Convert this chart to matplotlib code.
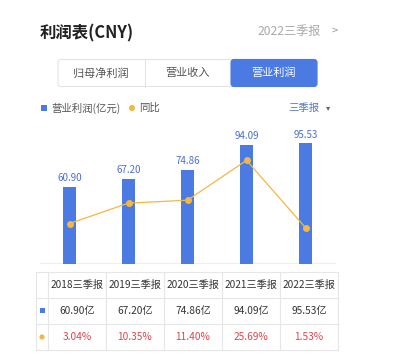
import matplotlib
matplotlib.use('Agg')
from matplotlib import pyplot as plt
from matplotlib.patches import FancyBboxPatch, Rectangle, Circle
import numpy as np

plt.rcParams['font.family'] = ['Noto Sans CJK SC', 'DejaVu Sans']

periods = ['2018三季报', '2019三季报', '2020三季报', '2021三季报', '2022三季报']
profit = [60.90, 67.20, 74.86, 94.09, 95.53]
yoy = [3.04, 10.35, 11.40, 25.69, 1.53]
tabs = ['归母净利润', '营业收入', '营业利润']

BLUE = '#4a7ae2'
LABEL_BLUE = '#4a6fcf'
ORANGE = '#f2b843'
RED = '#d9464a'
GRID = '#e6e6e6'
W, H = 398, 355

fig = plt.figure(figsize=(W / 100, H / 100), dpi=100)
fig.patch.set_facecolor('white')

# overlay axes in pixel coordinates for header, tabs, legend, table
bg = fig.add_axes([0, 0, 1, 1])
bg.set_xlim(0, W)
bg.set_ylim(H, 0)
bg.axis('off')

bg.text(40, 33, '利润表(CNY)', fontsize=11.8, fontweight='bold', color='#222222', va='center')
bg.text(257, 31, '2022三季报', fontsize=8.7, color='#a8a8a8', va='center')
bg.text(332, 31, '>', fontsize=8, color='#999999', va='center')

# tabs
bg.add_patch(FancyBboxPatch((58, 59.5), 259, 27, boxstyle='round,pad=0,rounding_size=3',
                            facecolor='white', edgecolor='#e3e3e3', lw=0.8))
bg.add_patch(FancyBboxPatch((231, 59.5), 86, 27, boxstyle='round,pad=0,rounding_size=3',
                            facecolor=BLUE, edgecolor=BLUE, lw=0.8))
bg.plot([144.5, 144.5], [59.5, 86.5], color='#e3e3e3', lw=0.8)
tab_x = [101, 187.5, 274]
for i, t in enumerate(tabs):
    c = 'white' if i == 2 else '#555555'
    bg.text(tab_x[i], 73, t, fontsize=8, color=c, ha='center', va='center')

# legend
bg.add_patch(Rectangle((40.5, 104.5), 6, 6, facecolor=BLUE, edgecolor='none'))
bg.text(51, 108, '营业利润(亿元)', fontsize=7.5, color='#555555', va='center')
bg.add_patch(Circle((132, 108), 3, facecolor=ORANGE, edgecolor='none'))
bg.text(139, 108, '同比', fontsize=7.5, color='#555555', va='center')
bg.text(288, 108, '三季报', fontsize=7.5, color='#5577c8', va='center')
bg.text(326, 108, '▾', fontsize=6, color='#666666', va='center', family='DejaVu Sans')

# chart axes: zero at y=264px, 1.262 px per unit
ax_left, ax_right, ax_top, ax_bot = 40, 335, 120, 264
ax = fig.add_axes([ax_left / W, 1 - ax_bot / H, (ax_right - ax_left) / W, (ax_bot - ax_top) / H])
ax.patch.set_alpha(0)
x = np.arange(len(profit))
ax.bar(x, profit, width=0.22, color=BLUE, zorder=2)
for xi, v in zip(x, profit):
    ax.text(xi, v + 3, '%.2f' % v, ha='center', va='bottom', fontsize=7, color=LABEL_BLUE)
ax.set_xlim(-0.5, 4.5)
ax.set_ylim(0, 144 / 1.262)
ax.axis('off')

ax2 = ax.twinx()
ax2.plot(x, yoy, color=ORANGE, lw=0.9, marker='o', markersize=4, zorder=3)
ax2.set_ylim(-32 / 2.79, 112 / 2.79)
ax2.axis('off')

bg.plot([40, 335], [262.5, 262.5], color='#eeeeee', lw=0.8, zorder=0)

# table
col_edges = [36, 48, 106, 164, 222, 280, 338]
row_edges = [272, 298, 324, 350]
for ye in row_edges:
    bg.plot([36, 338], [ye, ye], color=GRID, lw=0.8)
for xe in col_edges:
    bg.plot([xe, xe], [272, 350], color=GRID, lw=0.8)
for i in range(len(periods)):
    cx = (col_edges[i + 1] + col_edges[i + 2]) / 2
    bg.text(cx, 285, periods[i], fontsize=7.3, color='#333333', ha='center', va='center')
    bg.text(cx, 311, '%.2f亿' % profit[i], fontsize=7.3, color='#333333', ha='center', va='center')
    bg.text(cx, 337, '%.2f%%' % yoy[i], fontsize=7.3, color=RED, ha='center', va='center')
bg.add_patch(Rectangle((39.5, 308), 5, 5, facecolor=BLUE, edgecolor='none'))
bg.add_patch(Circle((42, 337), 2.6, facecolor=ORANGE, edgecolor='none'))

fig.savefig('out.png', dpi=100, facecolor='white')
